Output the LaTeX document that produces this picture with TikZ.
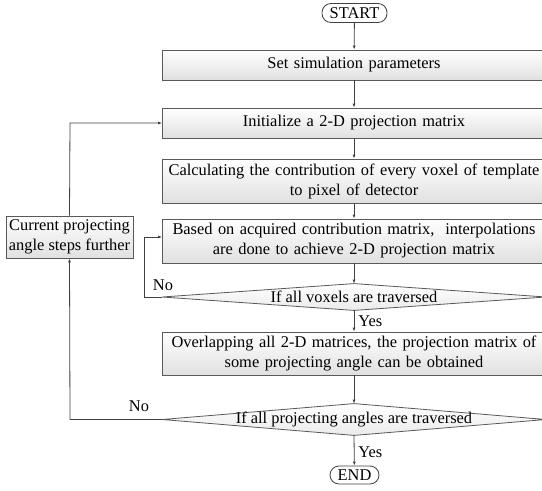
\documentclass[tikz,border=0pt]{standalone}
\usepackage{fontspec}
\setmainfont{Liberation Serif}
\usetikzlibrary{arrows.meta}
\begin{document}
\begin{tikzpicture}[x=1pt,y=-1pt,
  font=\fontsize{16.4}{20}\selectfont,
  line width=0.8pt,
  box/.style={draw=black!65, top color=white, bottom color=black!12, minimum width=383pt, inner sep=0pt, align=center, text width=380pt},
  pill/.style={draw=black!75, fill=white, rounded corners=9pt, inner sep=0pt},
  dbox/.style={draw=none, minimum width=383pt, inner sep=0pt},
  dshade/.style={draw=black!65, top color=white, bottom color=black!8},
  conn/.style={draw=black!75, -{Latex[length=4pt,width=3pt]}},
  lbl/.style={inner sep=0pt}
]
\useasboundingbox (0,0) rectangle (542,491);

\node[pill, minimum width=65pt, minimum height=19pt] (start) at (354.5,13) {START};
\node[box, minimum height=30pt] (b1) at (354,65) {Set simulation parameters};
\node[box, minimum height=30pt] (b2) at (354,123) {Initialize a 2-D projection matrix};
\node[box, minimum height=44pt] (b3) at (354,181) {Calculating the contribution of every voxel of template\\to pixel of detector};
\node[box, minimum height=44pt] (b4) at (354,241) {Based on acquired contribution matrix,~ interpolations\\are done to achieve 2-D projection matrix};

\node[dbox, minimum height=26pt] (d1) at (354,297) {};
\draw[dshade] (d1.west) -- (d1.north) -- (d1.east) -- (d1.south) -- cycle;
\node[lbl] (d1t) at (d1.center) {If all voxels are traversed};

\node[box, minimum height=43pt] (b5) at (354,353.5) {Overlapping all 2-D matrices, the projection matrix of\\some projecting angle can be obtained};

\node[dbox, minimum height=31pt] (d2) at (354,419.5) {};
\draw[dshade] (d2.west) -- (d2.north) -- (d2.east) -- (d2.south) -- cycle;
\node[lbl] (d2t) at (d2.center) {If all projecting angles are traversed};

\node[pill, minimum width=49pt, minimum height=18pt] (end) at (354.5,475) {END};

\node[draw=black!65, top color=white, bottom color=black!12, minimum width=127pt, minimum height=42pt, inner sep=0pt, align=center] (cur) at (69.5,237) {Current projecting\\angle steps further};

\coordinate (l1a) at (144,297);
\coordinate (l1b) at (144,237);
\coordinate (l2a) at (70,419.5);
\coordinate (l2b) at (70,123);

\draw[conn] (start) -- (b1);
\draw[conn] (b1) -- (b2);
\draw[conn] (b2) -- (b3);
\draw[conn] (b3) -- (b4);
\draw[conn] (b4) -- (d1.north);
\draw[conn] (d1.south) -- (b5);
\draw[conn] (b5) -- (d2.north);
\draw[conn] (d2.south) -- (end);
\draw[conn] (d1.west) -- (l1a) -- (l1b) -- (l1b -| b4.west);
\draw[conn] (d2.west) -- (l2a) -- (cur.south);
\draw[conn] (cur.north) -- (l2b) -- (b2.west);

\node[lbl] (no1) at (163,285) {No};
\node[lbl] (no2) at (139,406) {No};
\node[lbl, anchor=west] (yes1) at (358,321) {Yes};
\node[lbl, anchor=west] (yes2) at (358,452) {Yes};
\end{tikzpicture}
\end{document}
